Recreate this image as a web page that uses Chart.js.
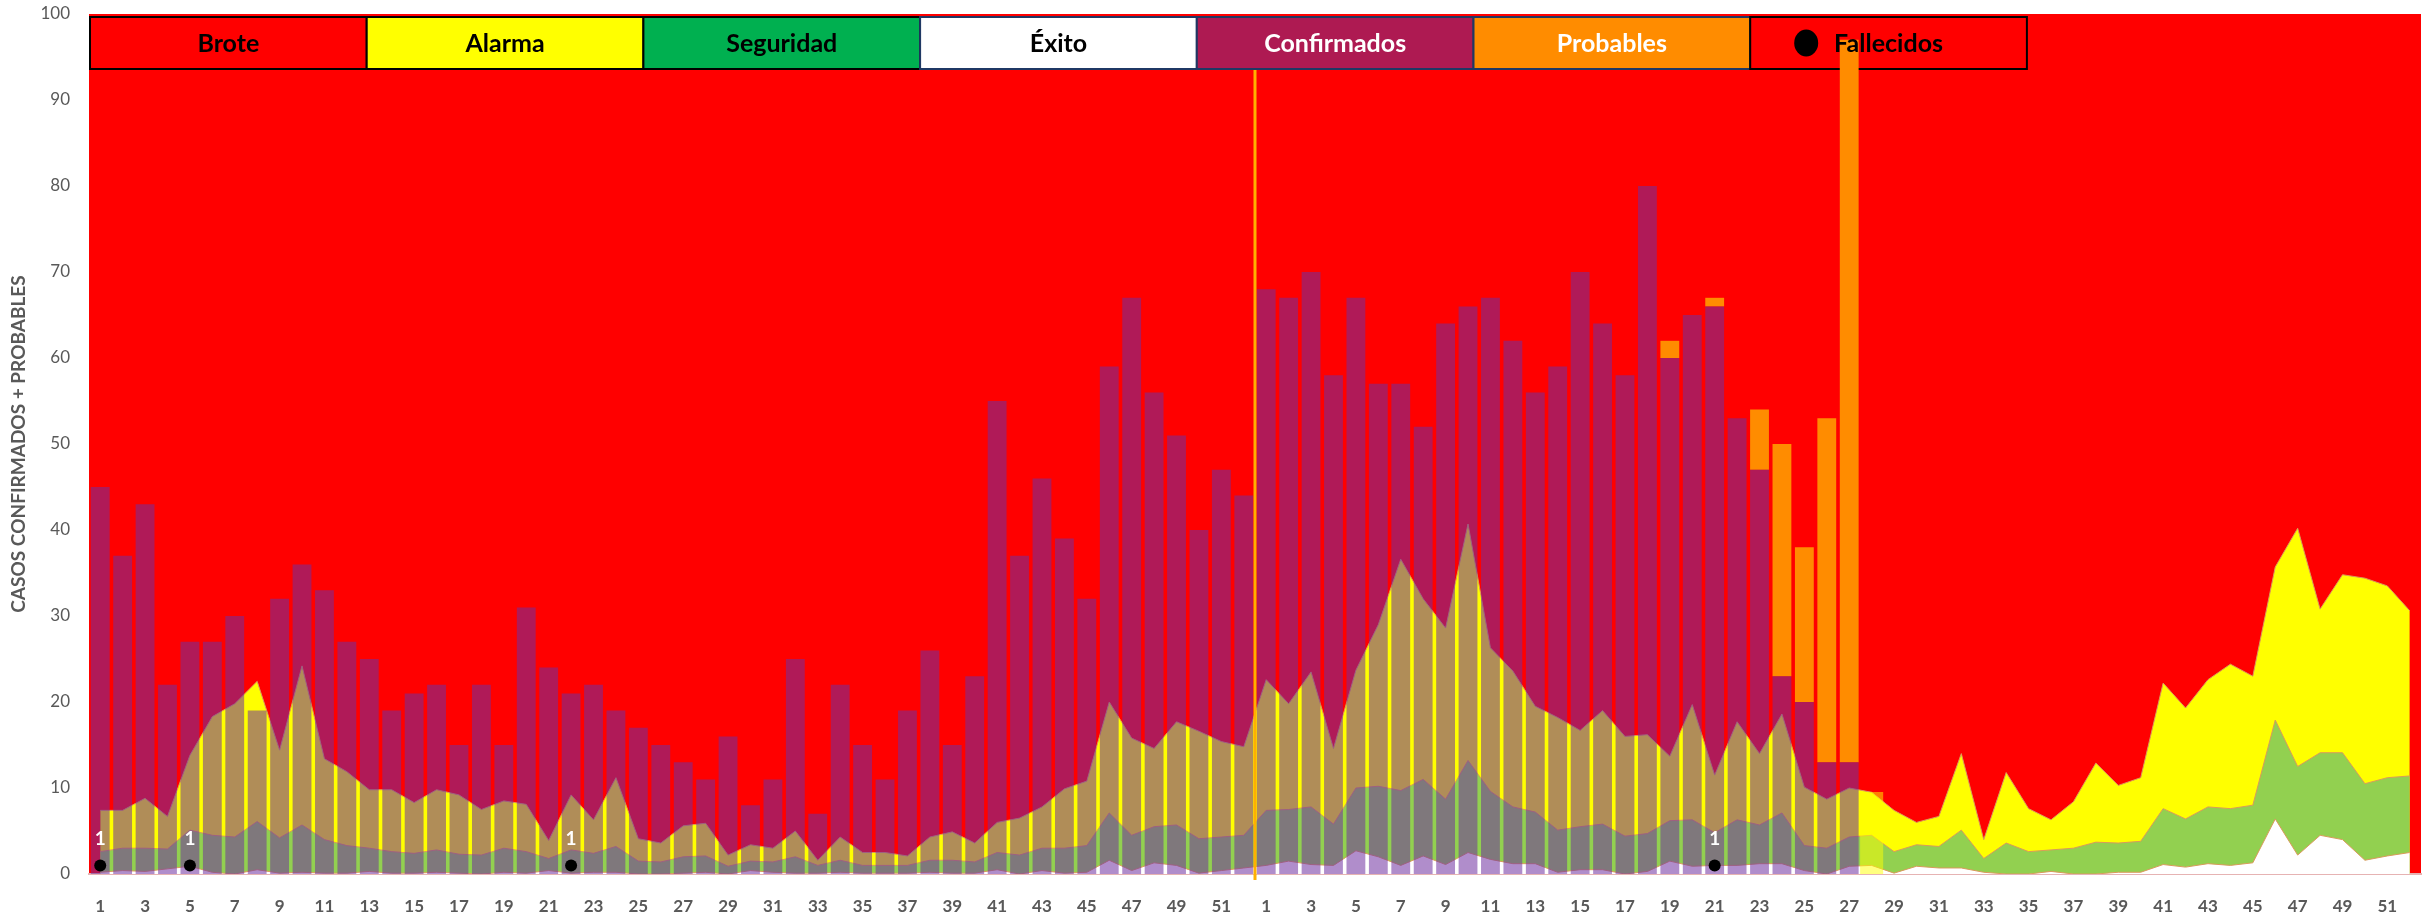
<!DOCTYPE html>
<html lang="es">
<head>
<meta charset="utf-8">
<title>Canal endémico</title>
<script src="https://cdn.jsdelivr.net/npm/chart.js@4.4.1/dist/chart.umd.min.js"></script>
<style>
  html, body { margin: 0; padding: 0; background: #fff; }
  #grafico { display: block; }
</style>
</head>
<body>
<canvas id="grafico" width="2433" height="915"></canvas>
<script>
// semanas epidemiologicas (dos años seguidos)
const semanas = [1,2,3,4,5,6,7,8,9,10,11,12,13,14,15,16,17,18,19,20,21,22,23,24,25,26,
  27,28,29,30,31,32,33,34,35,36,37,38,39,40,41,42,43,44,45,46,47,48,49,50,51,52];
const etiquetas = semanas.concat(semanas);

// casos confirmados por semana
const confirmadosAnterior = [45,37,43,22,27,27,30,19,32,36,33,27,25,19,21,22,15,22,15,31,
  24,21,22,19,17,15,13,11,16,8,11,25,7,22,15,11,19,26,15,23,55,37,46,39,32,59,67,56,51,40,47,44];
const confirmadosActual = [68,67,70,58,67,57,57,52,64,66,67,62,56,59,70,64,58,80,60,65,
  66,53,47,23,20,13,13];
// casos probables (solo año actual)
const probablesActual = [0,0,0,0,0,0,0,0,0,0,0,0,0,0,0,0,0,0,2,0,1,0,7,27,18,40,84];

// canal endemico: limite superior de cada zona
const exitoAnterior = [0.2,0.4,0.3,0.6,0.9,0.2,0,0.5,0.1,0.2,0.1,0.1,0.3,0.1,0.1,0.2,0.1,0,0.2,0.1,
  0.4,0.1,0.2,0.2,0,0,0.1,0.2,0,0.4,0.2,0.1,0.1,0.2,0.1,0.1,0.1,0.2,0.1,0.1,0.5,0,
  0.4,0.1,0.2,1.6,0.4,1.3,1.0,0.1,0.4,0.7];
const exitoActual = [1.0,1.5,1.1,1.0,2.7,2.0,1.0,2.1,1.1,2.5,1.7,1.2,1.2,0.2,0.5,0.5,0,0.3,1.5,0.9,
  1.0,1.0,1.2,1.2,0.4,0,0.9,1.0,0.1,0.9,0.7,0.7,0.2,0,0,0.3,0,0,0.2,0.2,
  1.1,0.8,1.2,1.0,1.3,6.4,2.2,4.5,4.0,1.6,2.1,2.5];
const seguridadAnterior = [2.6,3.0,3.0,2.9,5.1,4.5,4.3,6.1,4.2,5.7,4.0,3.3,3.0,2.6,2.4,2.8,2.3,2.2,3.0,2.6,
  1.8,2.8,2.4,3.2,1.5,1.4,2.0,2.1,0.9,1.5,1.4,2.0,1.0,1.6,1.0,1.0,1.0,1.6,1.6,1.4,
  2.5,2.2,3.0,3.0,3.3,7.1,4.5,5.5,5.7,4.1,4.3,4.5];
const seguridadActual = [7.4,7.5,7.8,5.8,10.0,10.2,9.7,11.0,8.7,13.2,9.6,7.8,7.2,5.1,5.5,5.8,4.4,4.7,6.2,6.3,
  4.8,6.3,5.7,7.1,3.3,3.0,4.3,4.5,2.6,3.4,3.2,5.1,1.8,3.6,2.6,2.8,3.0,3.7,3.6,3.8,
  7.6,6.4,7.8,7.6,8.0,17.9,12.5,14.1,14.1,10.5,11.2,11.4];
const alarmaAnterior = [7.4,7.4,8.8,6.7,13.8,18.3,19.8,22.4,14.4,24.2,13.4,11.9,9.8,9.8,8.3,9.8,9.2,7.5,8.5,8.1,
  3.9,9.2,6.3,11.2,4.1,3.6,5.6,5.9,2.2,3.4,3.0,5.0,1.6,4.3,2.5,2.5,2.1,4.3,4.9,3.6,
  6.0,6.5,7.8,9.9,10.8,20.0,15.8,14.6,17.7,16.6,15.4,14.8];
const alarmaActual = [22.6,19.8,23.5,14.6,23.7,29.0,36.6,32.0,28.6,40.7,26.3,23.6,19.5,18.2,16.7,19.0,16.0,16.2,13.7,19.7,
  11.5,17.7,14.0,18.6,10.1,8.7,10.0,9.5,7.4,6.0,6.7,14.0,4.0,11.8,7.6,6.3,8.4,12.9,10.3,11.2,
  22.2,19.3,22.6,24.4,23.0,35.7,40.2,30.8,34.8,34.4,33.5,30.6];

// fallecidos: [semana, numero]
const fallecidosAnterior = [[1,1],[5,1],[22,1]];
const fallecidosActual = [[21,1]];

// semana en curso (marca amarilla)
const semanaEnCurso = 28;
const alturaMarca = 9.5;

const n = semanas.length;
const vacios = (k) => new Array(k).fill(null);

const serieConfirmados = confirmadosAnterior.concat(confirmadosActual, vacios(n - confirmadosActual.length));
const serieProbables = vacios(n).concat(probablesActual, vacios(n - probablesActual.length));
const serieFallecidos = vacios(2 * n);
fallecidosAnterior.forEach(([s, v]) => { serieFallecidos[s - 1] = v; });
fallecidosActual.forEach(([s, v]) => { serieFallecidos[n + s - 1] = v; });
const serieMarca = vacios(2 * n);
serieMarca[n + semanaEnCurso - 1] = alturaMarca;

const leyenda = [
  { texto: 'Brote', fondo: '#FF0000', borde: '#000000', color: '#000000' },
  { texto: 'Alarma', fondo: '#FFFF00', borde: '#000000', color: '#000000' },
  { texto: 'Seguridad', fondo: '#00B050', borde: '#000000', color: '#000000' },
  { texto: 'Éxito', fondo: '#FFFFFF', borde: '#1F3864', color: '#000000' },
  { texto: 'Confirmados', fondo: '#AE1A52', borde: '#1F3864', color: '#FFFFFF' },
  { texto: 'Probables', fondo: '#FF8C00', borde: '#1F3864', color: '#FFFFFF' },
  { texto: 'Fallecidos', fondo: '#FF0000', borde: '#000000', color: '#000000', punto: true }
];
const cajaAncho = 276.7, cajaArriba = 17, cajaAlto = 52;

const fondoBrote = {
  id: 'fondoBrote',
  beforeDraw(chart) {
    const { ctx, chartArea: a } = chart;
    ctx.save();
    ctx.fillStyle = '#FF0000';
    ctx.fillRect(a.left, a.top, a.right - a.left, a.bottom - a.top);
    ctx.restore();
  }
};

const cajasLeyenda = {
  id: 'cajasLeyenda',
  beforeDatasetsDraw(chart) {
    const { ctx, chartArea: a } = chart;
    ctx.save();
    ctx.lineWidth = 2;
    leyenda.forEach((it, i) => {
      const x = a.left + 1 + i * cajaAncho;
      ctx.fillStyle = it.fondo;
      ctx.fillRect(x, cajaArriba, cajaAncho, cajaAlto);
      ctx.strokeStyle = it.borde;
      ctx.strokeRect(x, cajaArriba, cajaAncho, cajaAlto);
    });
    ctx.restore();
  },
  afterDatasetsDraw(chart) {
    const { ctx, chartArea: a, scales } = chart;
    ctx.save();
    // linea de cambio de año
    const xs = scales.x;
    const xCorte = (xs.getPixelForValue(n - 1) + xs.getPixelForValue(n)) / 2;
    ctx.strokeStyle = '#FFB000';
    ctx.lineWidth = 3;
    ctx.beginPath();
    ctx.moveTo(xCorte, cajaArriba + cajaAlto + 1);
    ctx.lineTo(xCorte, a.bottom + 6);
    ctx.stroke();

    // textos de la leyenda
    ctx.font = 'bold 25px Lato';
    ctx.textAlign = 'center';
    ctx.textBaseline = 'middle';
    leyenda.forEach((it, i) => {
      const x = a.left + 1 + i * cajaAncho;
      ctx.fillStyle = it.color;
      ctx.fillText(it.texto, x + cajaAncho / 2, cajaArriba + cajaAlto / 2 + 1);
      if (it.punto) {
        ctx.fillStyle = '#000000';
        ctx.beginPath();
        ctx.ellipse(x + 56, cajaArriba + cajaAlto / 2, 12, 13.5, 0, 0, Math.PI * 2);
        ctx.fill();
      }
    });

    // etiquetas de fallecidos
    const meta = chart.getDatasetMeta(0);
    ctx.font = 'bold 19px Lato';
    ctx.fillStyle = '#FFFFFF';
    meta.data.forEach((p, i) => {
      const v = serieFallecidos[i];
      if (v == null) return;
      ctx.fillText(String(v), p.x, p.y - 27);
    });
    ctx.restore();
  }
};

const area = (label, data, color, orden) => ({
  type: 'line',
  label: label,
  data: data,
  stack: label,
  order: orden,
  fill: 'origin',
  backgroundColor: color,
  borderColor: '#D99A5B',
  borderWidth: 1,
  pointRadius: 0,
  tension: 0
});

new Chart(document.getElementById('grafico'), {
  data: {
    labels: etiquetas,
    datasets: [
      {
        type: 'line',
        label: 'Fallecidos',
        data: serieFallecidos,
        stack: 'fallecidos',
        order: 0,
        showLine: false,
        pointRadius: 6,
        pointBackgroundColor: '#000000',
        pointBorderWidth: 0
      },
      {
        type: 'bar',
        label: 'Confirmados',
        data: serieConfirmados,
        stack: 'casos',
        order: 1,
        backgroundColor: 'rgba(112,48,160,0.55)',
        barPercentage: 0.84,
        categoryPercentage: 1
      },
      {
        type: 'bar',
        label: 'Probables',
        data: serieProbables,
        stack: 'casos',
        order: 1,
        backgroundColor: '#FF8C00',
        barPercentage: 0.84,
        categoryPercentage: 1
      },
      {
        type: 'bar',
        label: 'Semana en curso',
        data: serieMarca,
        stack: 'casos',
        order: 2,
        backgroundColor: 'rgba(255,255,0,0.5)',
        barPercentage: 1,
        categoryPercentage: 1
      },
      area('Éxito', exitoAnterior.concat(exitoActual), '#FFFFFF', 3),
      area('Seguridad', seguridadAnterior.concat(seguridadActual), '#92D050', 4),
      area('Alarma', alarmaAnterior.concat(alarmaActual), '#FFFF00', 5)
    ]
  },
  options: {
    responsive: false,
    animation: false,
    devicePixelRatio: 1,
    layout: { padding: { top: 14, right: 12, left: 0, bottom: 0 } },
    plugins: {
      legend: { display: false },
      tooltip: { enabled: false }
    },
    scales: {
      x: {
        stacked: true,
        offset: true,
        grid: { display: false, drawTicks: false },
        border: { display: true, color: '#E6B3B3', width: 2 },
        ticks: {
          autoSkip: false,
          maxRotation: 0,
          minRotation: 0,
          padding: 22,
          color: '#595959',
          font: { family: 'Lato', weight: 'bold', size: 17 },
          callback: (v, i) => (i % 2 === 0 ? etiquetas[i] : '')
        },
        afterFit: (s) => { s.height = 41; }
      },
      y: {
        stacked: true,
        min: 0,
        max: 100,
        grid: { display: false, drawTicks: false },
        border: { display: false },
        ticks: {
          stepSize: 10,
          padding: 19,
          color: '#595959',
          font: { family: 'Lato', size: 17 }
        },
        title: {
          display: true,
          text: 'CASOS CONFIRMADOS + PROBABLES',
          color: '#595959',
          font: { family: 'Lato', weight: 'bold', size: 19 },
          padding: { top: 7, bottom: 0 }
        },
        afterFit: (s) => {
          s.width = 89;
          s.paddingTop = 0;
          s.paddingBottom = 0;
        }
      }
    }
  },
  plugins: [fondoBrote, cajasLeyenda]
});
</script>
</body>
</html>
